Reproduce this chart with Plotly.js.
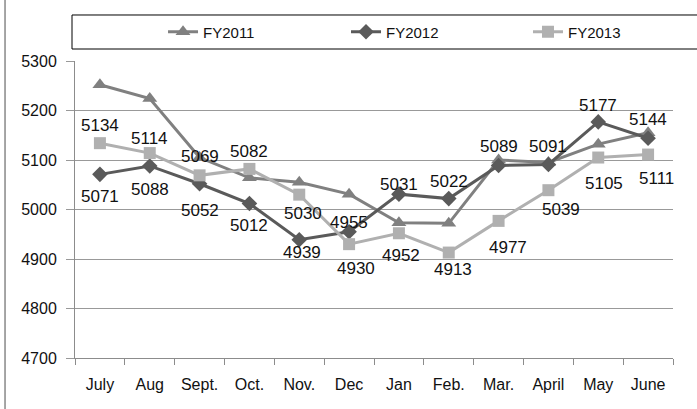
<!DOCTYPE html>
<html>
<head>
<meta charset="utf-8">
<script src="https://cdn.plot.ly/plotly-3.0.1.min.js"></script>
<style>html,body{margin:0;padding:0;background:#fff;}#chart{width:697px;height:409px;}</style>
</head>
<body>
<div id="chart"></div>
<script>
var months = ["July","Aug","Sept.","Oct.","Nov.","Dec","Jan","Feb.","Mar.","April","May","June"];
var fy2011 = [5252, 5224, 5105, 5064, 5055, 5031, 4973, 4972, 5100, 5095, 5132, 5155];
var fy2012 = [5071, 5088, 5052, 5012, 4939, 4955, 5031, 5022, 5089, 5091, 5177, 5144];
var fy2013 = [5134, 5114, 5069, 5082, 5030, 4930, 4952, 4913, 4977, 5039, 5105, 5111];

// label placement (style only): pixel offsets of each data label from its point
var off2012y = [22, 24, 27, 22, 13, -9, -10, -17, -19, -18, -16, -19];
var off2012x = [0, 0, 0, 0, 3, 0, 0, 0, 0, 0, 0, 0];
var off2013y = [-18, -15, -19, -17, 19, 24, 22, 17, 27, 19, 26, 24];
var off2013x = [0, 0, 0, 0, 4, 7, 2, 4, 9, 13, 6, 8];

var FONT = "Liberation Sans, Arial, sans-serif";
var labelFont = {family: FONT, size: 17, color: "#111"};

var traces = [
  {x: months, y: fy2011, name: "FY2011", type: "scatter", mode: "lines+markers", legend: "legend",
   line: {color: "#808080", width: 3}, marker: {symbol: "triangle-up", size: 13, color: "#808080"}},
  {x: months, y: fy2012, name: "FY2012", type: "scatter", mode: "lines+markers", legend: "legend2",
   line: {color: "#5a5a5a", width: 3}, marker: {symbol: "diamond", size: 12, color: "#5a5a5a"}},
  {x: months, y: fy2013, name: "FY2013", type: "scatter", mode: "lines+markers", legend: "legend3",
   line: {color: "#b0b0b0", width: 3}, marker: {symbol: "square", size: 12, color: "#b0b0b0"}}
];

var annotations = [];
function addLabels(vals, ox, oy) {
  for (var i = 0; i < vals.length; i++) {
    annotations.push({x: months[i], y: vals[i], xref: "x", yref: "y", text: String(vals[i]),
      showarrow: false, xshift: ox[i], yshift: -oy[i], font: labelFont,
      xanchor: "center", yanchor: "middle"});
  }
}
addLabels(fy2012, off2012x, off2012y);
addLabels(fy2013, off2013x, off2013y);

function leg(xp) {
  return {orientation: "h", x: xp, xanchor: "left", y: 1.0976, yanchor: "middle",
          font: {family: FONT, size: 15, color: "#111"}, bgcolor: "rgba(0,0,0,0)", borderwidth: 0};
}

var layout = {
  width: 697, height: 409,
  margin: {l: 75, r: 24, t: 61, b: 51},
  paper_bgcolor: "#fff", plot_bgcolor: "#fff",
  font: {family: FONT, size: 16, color: "#111"},
  showlegend: true,
  legend: leg(0.1472),
  legend2: leg(0.4532),
  legend3: leg(0.7575),
  annotations: annotations,
  xaxis: {type: "category", range: [-0.5, 11.5], showline: true, linecolor: "#8c8c8c", linewidth: 1,
          ticks: "outside", tickson: "boundaries", ticklen: 6, tickcolor: "#8c8c8c",
          showgrid: false, ticklabelstandoff: 12, fixedrange: true},
  yaxis: {range: [4700, 5300], dtick: 100, tick0: 4700, showline: true, linecolor: "#8c8c8c", linewidth: 1,
          ticks: "outside", ticklen: 8, tickcolor: "#999", gridcolor: "#999", gridwidth: 1,
          ticklabelstandoff: 6, zeroline: false, fixedrange: true},
  shapes: [
    {type: "rect", xref: "paper", yref: "paper", x0: -0.005, x1: 1.05, y0: 1.0404, y1: 1.1549,
     line: {color: "#000", width: 1}, fillcolor: "rgba(0,0,0,0)", layer: "below"},
    {type: "line", xref: "paper", yref: "paper", x0: -0.117, x1: -0.117, y0: -0.3, y1: 1.3,
     line: {color: "#888", width: 1.5}}
  ]
};

Plotly.newPlot("chart", traces, layout, {displayModeBar: false, staticPlot: true});
</script>
</body>
</html>
